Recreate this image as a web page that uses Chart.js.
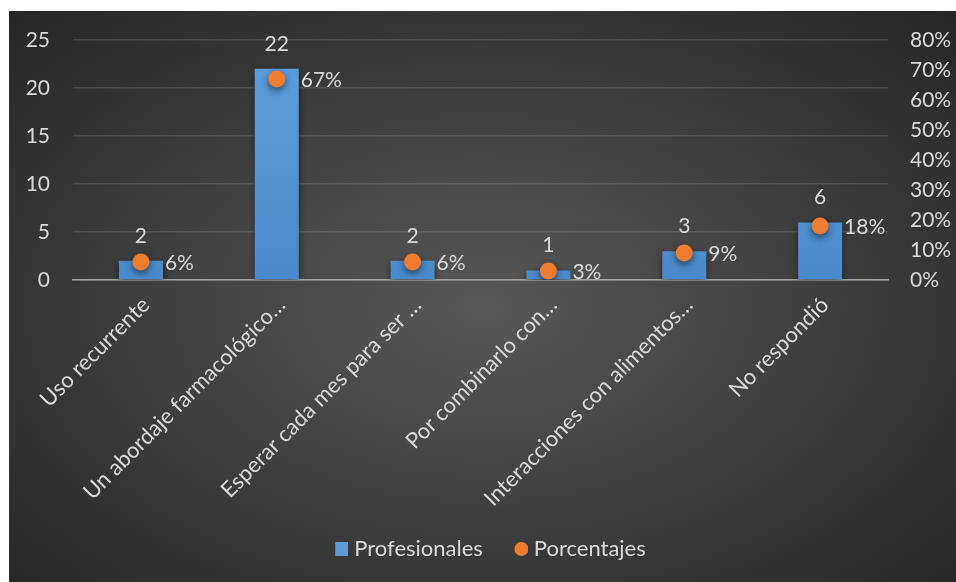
<!DOCTYPE html>
<html>
<head>
<meta charset="utf-8">
<script src="https://cdn.jsdelivr.net/npm/chart.js@4.4.1/dist/chart.umd.min.js"></script>
<style>
  html, body { margin: 0; padding: 0; background: #ffffff; }
  #frame {
    position: absolute; left: 9px; top: 11px; width: 947px; height: 571px;
    background: radial-gradient(ellipse farthest-corner at 50% 52%, #585858 0%, #3c3c3c 55%, #262626 100%);
  }
  canvas { display: block; }
</style>
</head>
<body>
<div id="frame"><canvas id="chart" width="947" height="571"></canvas></div>
<script>
// Respuestas por categoría
const categories = [
  'Uso recurrente',
  'Un abordaje farmacológico…',
  'Esperar cada mes para ser …',
  'Por combinarlo con…',
  'Interacciones con alimentos…',
  'No respondió'
];
const profesionales = [2, 22, 2, 1, 3, 6];
const porcentajes = [6, 67, 6, 3, 9, 18];
const leftTicks = [0, 5, 10, 15, 20, 25];
const rightTicks = [0, 10, 20, 30, 40, 50, 60, 70, 80];

const FONT = 'Lato';
const FS = 21;      // numbers
const FS_TXT = 22;  // category names and legend
const TEXT = '#d9d9d9';
const BLUE = '#5b9bd5';
const ORANGE = '#ef7d2f';

// legend markers, drawn at the right end of a wider transparent tile
function marker(kind) {
  const c = document.createElement('canvas');
  c.width = 32; c.height = 14;
  const g = c.getContext('2d');
  if (kind === 'rect') {
    g.fillStyle = BLUE; g.fillRect(19, 0, 13, 14);
  } else {
    g.fillStyle = ORANGE; g.beginPath(); g.arc(25.5, 7, 7, 0, Math.PI * 2); g.fill();
  }
  return c;
}
const markers = [marker('rect'), marker('circle')];

const shadowPlugin = {
  id: 'shadow',
  beforeDatasetDraw(chart) {
    const ctx = chart.ctx;
    ctx.save();
    ctx.shadowColor = 'rgba(0,0,0,0.55)';
    ctx.shadowBlur = 7;
    ctx.shadowOffsetY = 3;
  },
  afterDatasetDraw(chart) { chart.ctx.restore(); }
};

const valueLabels = {
  id: 'valueLabels',
  afterDatasetsDraw(chart) {
    const ctx = chart.ctx;
    ctx.save();
    ctx.font = FS + 'px ' + FONT;
    ctx.fillStyle = TEXT;
    ctx.textBaseline = 'middle';
    chart.getDatasetMeta(0).data.forEach((el, i) => {
      ctx.textAlign = 'center';
      ctx.fillText(String(profesionales[i]), el.x, el.y - 25);
    });
    chart.getDatasetMeta(1).data.forEach((el, i) => {
      ctx.textAlign = 'left';
      ctx.fillText(porcentajes[i] + '%', el.x + 24, el.y + 1);
    });
    ctx.restore();
  }
};

const ctx = document.getElementById('chart').getContext('2d');
const barFill = ctx.createLinearGradient(0, 29, 0, 269);
barFill.addColorStop(0, '#5d9edb');
barFill.addColorStop(1, '#4a8aca');

function fixSide(width) {
  return s => { s.width = width; s.paddingTop = 0; s.paddingBottom = 0; };
}

new Chart(ctx, {
  data: {
    labels: categories,
    datasets: [
      {
        type: 'bar', label: 'Profesionales', data: profesionales, yAxisID: 'y',
        backgroundColor: barFill, borderWidth: 0,
        categoryPercentage: 1, barPercentage: 0.324, order: 2
      },
      {
        type: 'line', label: 'Porcentajes', data: porcentajes, yAxisID: 'y1',
        showLine: false, pointRadius: 8.5, pointHoverRadius: 8.5,
        pointBackgroundColor: ORANGE, pointBorderWidth: 0, order: 1
      }
    ]
  },
  options: {
    responsive: false,
    animation: false,
    layout: { padding: { left: 2, right: 0, top: 29, bottom: 12 } },
    plugins: {
      tooltip: { enabled: false },
      legend: {
        position: 'bottom',
        labels: {
          color: TEXT,
          font: { family: FONT, size: FS_TXT },
          usePointStyle: true,
          pointStyleWidth: 22,
          padding: 18,
          generateLabels(chart) {
            return chart.data.datasets.map((ds, i) => ({
              text: ds.label, pointStyle: markers[i], datasetIndex: i,
              fillStyle: 'transparent', strokeStyle: 'transparent', lineWidth: 0,
              fontColor: TEXT, hidden: false
            }));
          }
        }
      }
    },
    scales: {
      x: {
        grid: { display: false },
        border: { display: true, color: '#a6a6a6', width: 1.5 },
        ticks: {
          color: TEXT, font: { family: FONT, size: FS_TXT },
          minRotation: 45, maxRotation: 45, autoSkip: false, padding: 4, labelOffset: 5
        },
        afterFit(s) { s.height = 240; s.paddingLeft = 0; s.paddingRight = 0; }
      },
      y: {
        position: 'left', min: 0, max: 25,
        grid: { color: 'rgba(255,255,255,0.12)', lineWidth: 1.5, drawTicks: false },
        border: { display: false },
        afterBuildTicks(s) { s.ticks = leftTicks.map(v => ({ value: v })); },
        ticks: { color: TEXT, font: { family: FONT, size: FS }, padding: 23 },
        afterFit: fixSide(62)
      },
      y1: {
        position: 'right', min: 0, max: 80,
        grid: { display: false, drawTicks: false },
        border: { display: false },
        afterBuildTicks(s) { s.ticks = rightTicks.map(v => ({ value: v })); },
        ticks: {
          color: TEXT, font: { family: FONT, size: FS }, padding: 22,
          callback: v => v + '%'
        },
        afterFit: fixSide(68)
      }
    }
  },
  plugins: [shadowPlugin, valueLabels]
});
</script>
</body>
</html>
